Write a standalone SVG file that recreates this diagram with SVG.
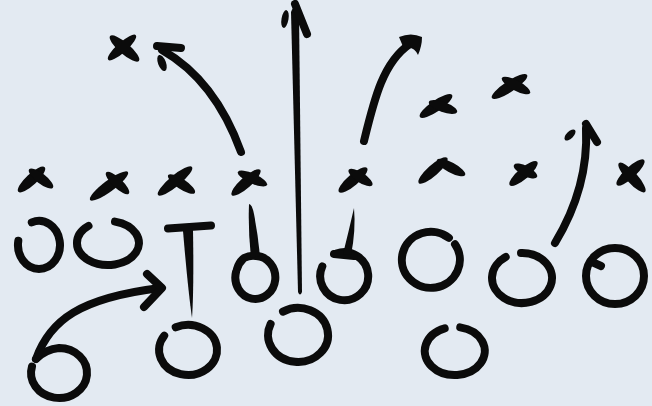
<svg xmlns="http://www.w3.org/2000/svg" width="652" height="406" viewBox="0 0 652 406">
<style>
.s{fill:none;stroke:#0b0b0b;stroke-width:8;stroke-linecap:round;stroke-linejoin:round}
.f{fill:#0b0b0b}
</style>
<rect width="652" height="406" fill="#e3eaf2"/>
<g id="defense" class="f">
<g id="x1"><ellipse cx="124.5" cy="48.5" rx="19" ry="5.5" transform="rotate(40.8 124.5 48.5)"/><ellipse cx="122" cy="47.5" rx="18.5" ry="5" transform="rotate(-41.8 122 47.5)"/></g>
<g id="x2"><ellipse cx="31.5" cy="179.5" rx="18" ry="5.5" transform="rotate(-42.8 31.5 179.5)"/><ellipse cx="41" cy="178.5" rx="15" ry="5" transform="rotate(37.7 41 178.5)"/></g>
<g id="x3"><ellipse cx="109" cy="186" rx="23.5" ry="5.5" transform="rotate(-36.4 109 186)"/><ellipse cx="117.5" cy="183" rx="15.5" ry="5" transform="rotate(43.6 117.5 183)"/></g>
<g id="x4"><ellipse cx="175" cy="181" rx="22" ry="5.5" transform="rotate(-39.5 175 181)"/><ellipse cx="181.5" cy="184" rx="16" ry="5" transform="rotate(33.7 181.5 184)"/></g>
<g id="x5"><ellipse cx="246" cy="182.5" rx="19" ry="5.5" transform="rotate(-41.8 246 182.5)"/><ellipse cx="252.5" cy="178.5" rx="16" ry="5" transform="rotate(24.1 252.5 178.5)"/></g>
<g id="x6"><ellipse cx="353" cy="180" rx="18.5" ry="5.5" transform="rotate(-40.6 353 180)"/><ellipse cx="360.5" cy="177.5" rx="14" ry="5" transform="rotate(33.1 360.5 177.5)"/></g>
<g id="x7"><ellipse cx="436" cy="106" rx="19.5" ry="5.5" transform="rotate(-34.5 436 106)"/><ellipse cx="443" cy="107" rx="15" ry="5" transform="rotate(19.7 443 107)"/></g>
<g id="x8"><ellipse cx="509.5" cy="86.5" rx="21" ry="5.5" transform="rotate(-33.3 509.5 86.5)"/><ellipse cx="516" cy="85.5" rx="16" ry="5" transform="rotate(28.2 516 85.5)"/></g>
<g id="x9"><ellipse cx="433" cy="170.5" rx="19" ry="5.5" transform="rotate(-41.8 433 170.5)"/><ellipse cx="451" cy="167.5" rx="16" ry="5" transform="rotate(28.2 451 167.5)"/></g>
<g id="x10"><ellipse cx="523.5" cy="173.5" rx="18" ry="5.5" transform="rotate(-40.4 523.5 173.5)"/><ellipse cx="525.5" cy="171" rx="13" ry="5" transform="rotate(27.6 525.5 171)"/></g>
<g id="x11"><ellipse cx="630.5" cy="172.5" rx="18.5" ry="5.5" transform="rotate(-42.8 630.5 172.5)"/><ellipse cx="632" cy="177.5" rx="19.5" ry="5.5" transform="rotate(48.1 632 177.5)"/></g>
</g>
<g id="offense">
<g id="o1"><path class="s" d="M18.3,240.8 A21,24 0 1 0 31.8,222.4"/></g>
<g id="o2"><path class="s" d="M88.5,225.9 A31,22 0 1 0 115,221.6"/></g>
<g id="o3"><path class="s" d="M168,228.5 L211,225.5"/><path class="f" d="M183,231 L193,230 Q194,290 192,318 Q188,290 183,231 Z"/></g>
<g id="o4"><path class="s" d="M164.2,335.7 A29,25 0 1 0 175.7,327.3"/></g>
<g id="o5"><path class="s" d="M237,269 A20,21.5 0 0 1 243,259 M244,258 Q250,255 256,256 A20,21.5 0 1 1 236,272"/><path class="f" d="M249,204 Q252,204 254,214 Q258,235 260,256 L251,258 Q248,230 249,204 Z"/></g>
<g id="o6"><path class="s" d="M270.6,324 A30,27 0 1 0 283,311.6"/></g>
<g id="o7"><path class="s" d="M322.3,266.4 A24,24 0 1 0 336.4,253.5"/><path class="s" d="M334,254 L354,256"/><path class="f" d="M354,208 Q356,230 351,255 L343,254 Q349,230 354,208 Z"/></g>
<g id="o8"><path class="s" d="M455,244.3 A29,28 0 1 1 448.9,237.9 L444,235"/></g>
<g id="o9"><path class="s" d="M505.7,257 A30,25 0 1 0 521,253"/></g>
<g id="o10"><ellipse class="s" cx="615" cy="276" rx="29" ry="28"/><path class="s" d="M592,262 L601,266" stroke-width="6"/></g>
<g id="o11"><path class="s" d="M444.7,328.4 A30,24 0 1 0 460.2,327.4"/></g>
<g id="o12"><path class="s" d="M36,359 Q46,349 59,348 A28,25 0 1 1 32,366.5"/></g>
</g>
<g id="routes">
<path class="s" d="M36,359 C50,320 80,298 160,288"/>
<path class="s" d="M147,274 L162,288 L144,307"/>
<path class="s" d="M241,152 Q215,80 162,50" stroke-width="7"/>
<path class="s" d="M157,46 L181,48" stroke-width="7"/>
<ellipse class="f" cx="162" cy="63" rx="4" ry="8.5" transform="rotate(-20 162 63)"/>
<path class="f" d="M291,12 Q295,2 299,12 L302,292 Q300,297 298,292 Z"/>
<path class="s" d="M295,4 L307,34" stroke-width="7"/>
<ellipse class="f" cx="285" cy="19" rx="3.5" ry="9" transform="rotate(10 285 19)"/>
<path class="s" d="M364,141 C374,100 383,62 410,44" stroke-width="6"/>
<path class="f" d="M399,37 Q411,32 422,37 Q422,46 418,55 Q413,45 404,49 Z"/>
<path class="s" d="M555,243 C575,210 588,170 586,128" stroke-width="6"/>
<path class="s" d="M586,124 L597,142" stroke-width="7"/>
<ellipse class="f" cx="570" cy="135" rx="3.5" ry="7" transform="rotate(45 570 135)"/>
</g>
</svg>
